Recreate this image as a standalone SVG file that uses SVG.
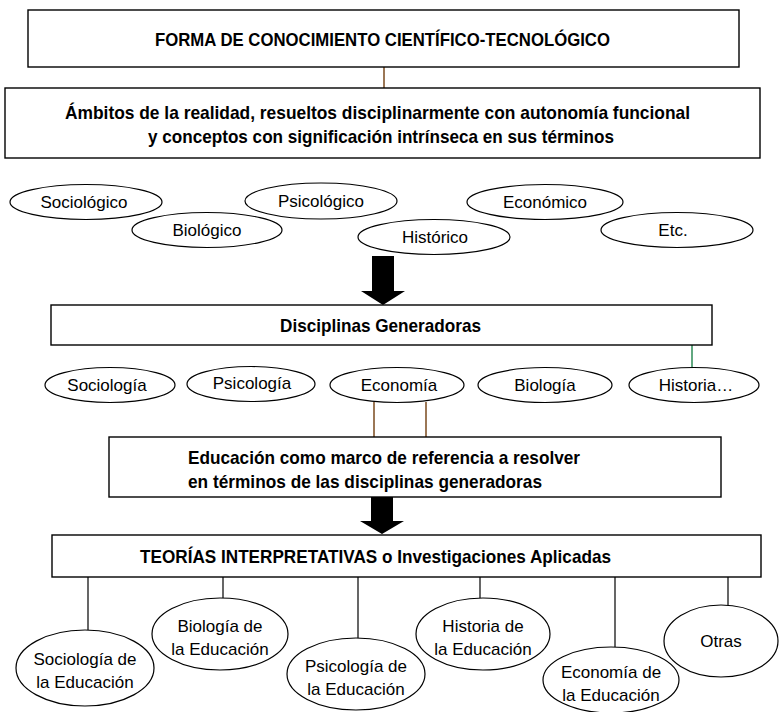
<svg xmlns="http://www.w3.org/2000/svg" width="779" height="712" viewBox="0 0 779 712">
<style>
.box{fill:#fff;stroke:#000;stroke-width:1.4}
.ell{fill:#fff;stroke:#000;stroke-width:1.2}
.b{font-family:"Liberation Sans",Arial,sans-serif;font-weight:bold;font-size:18.5px;fill:#000}
.t{font-family:"Liberation Sans",Arial,sans-serif;font-size:17px;fill:#000;text-anchor:middle}
.ln{stroke:#000;stroke-width:1.2;fill:none}
.br{stroke:#7a4a1e;stroke-width:1.5;fill:none}
.gr{stroke:#2e8b57;stroke-width:1.5;fill:none}
</style>
<g id="connectors">
<line class="br" x1="384" y1="67" x2="384" y2="88"/>
<line class="gr" x1="692" y1="345" x2="692" y2="368"/>
<line class="br" x1="374" y1="402" x2="374" y2="437"/>
<line class="br" x1="426" y1="402" x2="426" y2="437"/>
<polygon points="372,256 394,256 394,291 405,291 383,305 361,291 372,291" fill="#000"/>
<polygon points="371,497 393,497 393,521 404,521 382,534 360,521 371,521" fill="#000"/>
<line class="ln" x1="88" y1="577" x2="88" y2="630"/>
<line class="ln" x1="223" y1="577" x2="223" y2="598"/>
<line class="ln" x1="358" y1="577" x2="358" y2="638"/>
<line class="ln" x1="480" y1="577" x2="480" y2="598"/>
<line class="ln" x1="615" y1="577" x2="615" y2="647"/>
<line class="ln" x1="728" y1="577" x2="728" y2="605"/>
</g>
<g id="forma">
<rect class="box" x="28" y="10" width="711" height="57"/>
<text class="b" x="155" y="46" textLength="455" lengthAdjust="spacingAndGlyphs">FORMA DE CONOCIMIENTO CIENTÍFICO-TECNOLÓGICO</text>
</g>
<g id="ambitos">
<rect class="box" x="5" y="88" width="755" height="70"/>
<text class="b" x="65" y="119" textLength="625" lengthAdjust="spacingAndGlyphs">Ámbitos de la realidad, resueltos disciplinarmente con autonomía funcional</text>
<text class="b" x="148" y="143" textLength="466" lengthAdjust="spacingAndGlyphs">y  conceptos con significación intrínseca en sus términos</text>
</g>
<g id="sociologico"><ellipse class="ell" cx="86" cy="202" rx="76" ry="17.5"/><text class="t" x="84" y="208">Sociológico</text></g>
<g id="biologico"><ellipse class="ell" cx="207" cy="230" rx="75" ry="17.5"/><text class="t" x="207" y="236">Biológico</text></g>
<g id="psicologico"><ellipse class="ell" cx="321" cy="201" rx="76" ry="18"/><text class="t" x="321" y="207">Psicológico</text></g>
<g id="historico"><ellipse class="ell" cx="434" cy="237" rx="76" ry="17.5"/><text class="t" x="435" y="243">Histórico</text></g>
<g id="economico"><ellipse class="ell" cx="545" cy="202" rx="78" ry="17.5"/><text class="t" x="545" y="208">Económico</text></g>
<g id="etc"><ellipse class="ell" cx="677" cy="230" rx="76" ry="17.5"/><text class="t" x="673" y="236">Etc.</text></g>
<g id="disciplinas">
<rect class="box" x="51" y="305" width="661" height="40"/>
<text class="b" x="280" y="332" textLength="201" lengthAdjust="spacingAndGlyphs">Disciplinas Generadoras</text>
</g>
<g id="sociologia"><ellipse class="ell" cx="110" cy="385" rx="65" ry="17.5"/><text class="t" x="107" y="391">Sociología</text></g>
<g id="psicologia"><ellipse class="ell" cx="251" cy="384" rx="64" ry="17.5"/><text class="t" x="252" y="389">Psicología</text></g>
<g id="economia"><ellipse class="ell" cx="397" cy="385" rx="67" ry="17.5"/><text class="t" x="399" y="391">Economía</text></g>
<g id="biologia"><ellipse class="ell" cx="545" cy="385" rx="67" ry="17.5"/><text class="t" x="545" y="391">Biología</text></g>
<g id="historia"><ellipse class="ell" cx="694" cy="385" rx="65" ry="17.5"/><text class="t" x="696" y="391">Historia…</text></g>
<g id="educacion">
<rect class="box" x="109" y="437" width="612" height="60"/>
<text class="b" x="188" y="464" textLength="392" lengthAdjust="spacingAndGlyphs">Educación como marco de referencia a resolver</text>
<text class="b" x="188" y="488" textLength="354" lengthAdjust="spacingAndGlyphs">en términos de las disciplinas generadoras</text>
</g>
<g id="teorias">
<rect class="box" x="52" y="535" width="709" height="42"/>
<text class="b" x="140" y="563" textLength="471" lengthAdjust="spacingAndGlyphs">TEORÍAS INTERPRETATIVAS o Investigaciones Aplicadas</text>
</g>
<g id="soc-edu"><ellipse class="ell" cx="85" cy="668" rx="69" ry="38"/><text class="t" x="85" y="665">Sociología de</text><text class="t" x="85" y="688">la Educación</text></g>
<g id="bio-edu"><ellipse class="ell" cx="220" cy="634" rx="68" ry="36"/><text class="t" x="220" y="632">Biología de</text><text class="t" x="220" y="655">la Educación</text></g>
<g id="psi-edu"><ellipse class="ell" cx="356" cy="674" rx="69" ry="36"/><text class="t" x="356" y="672">Psicología de</text><text class="t" x="356" y="695">la Educación</text></g>
<g id="his-edu"><ellipse class="ell" cx="483" cy="634" rx="67" ry="36"/><text class="t" x="483" y="632">Historia de</text><text class="t" x="483" y="655">la Educación</text></g>
<g id="eco-edu"><ellipse class="ell" cx="611" cy="680" rx="68" ry="33"/><text class="t" x="611" y="678">Economía de</text><text class="t" x="611" y="701">la Educación</text></g>
<g id="otras"><ellipse class="ell" cx="721" cy="641" rx="57" ry="36"/><text class="t" x="721" y="647">Otras</text></g>
</svg>
